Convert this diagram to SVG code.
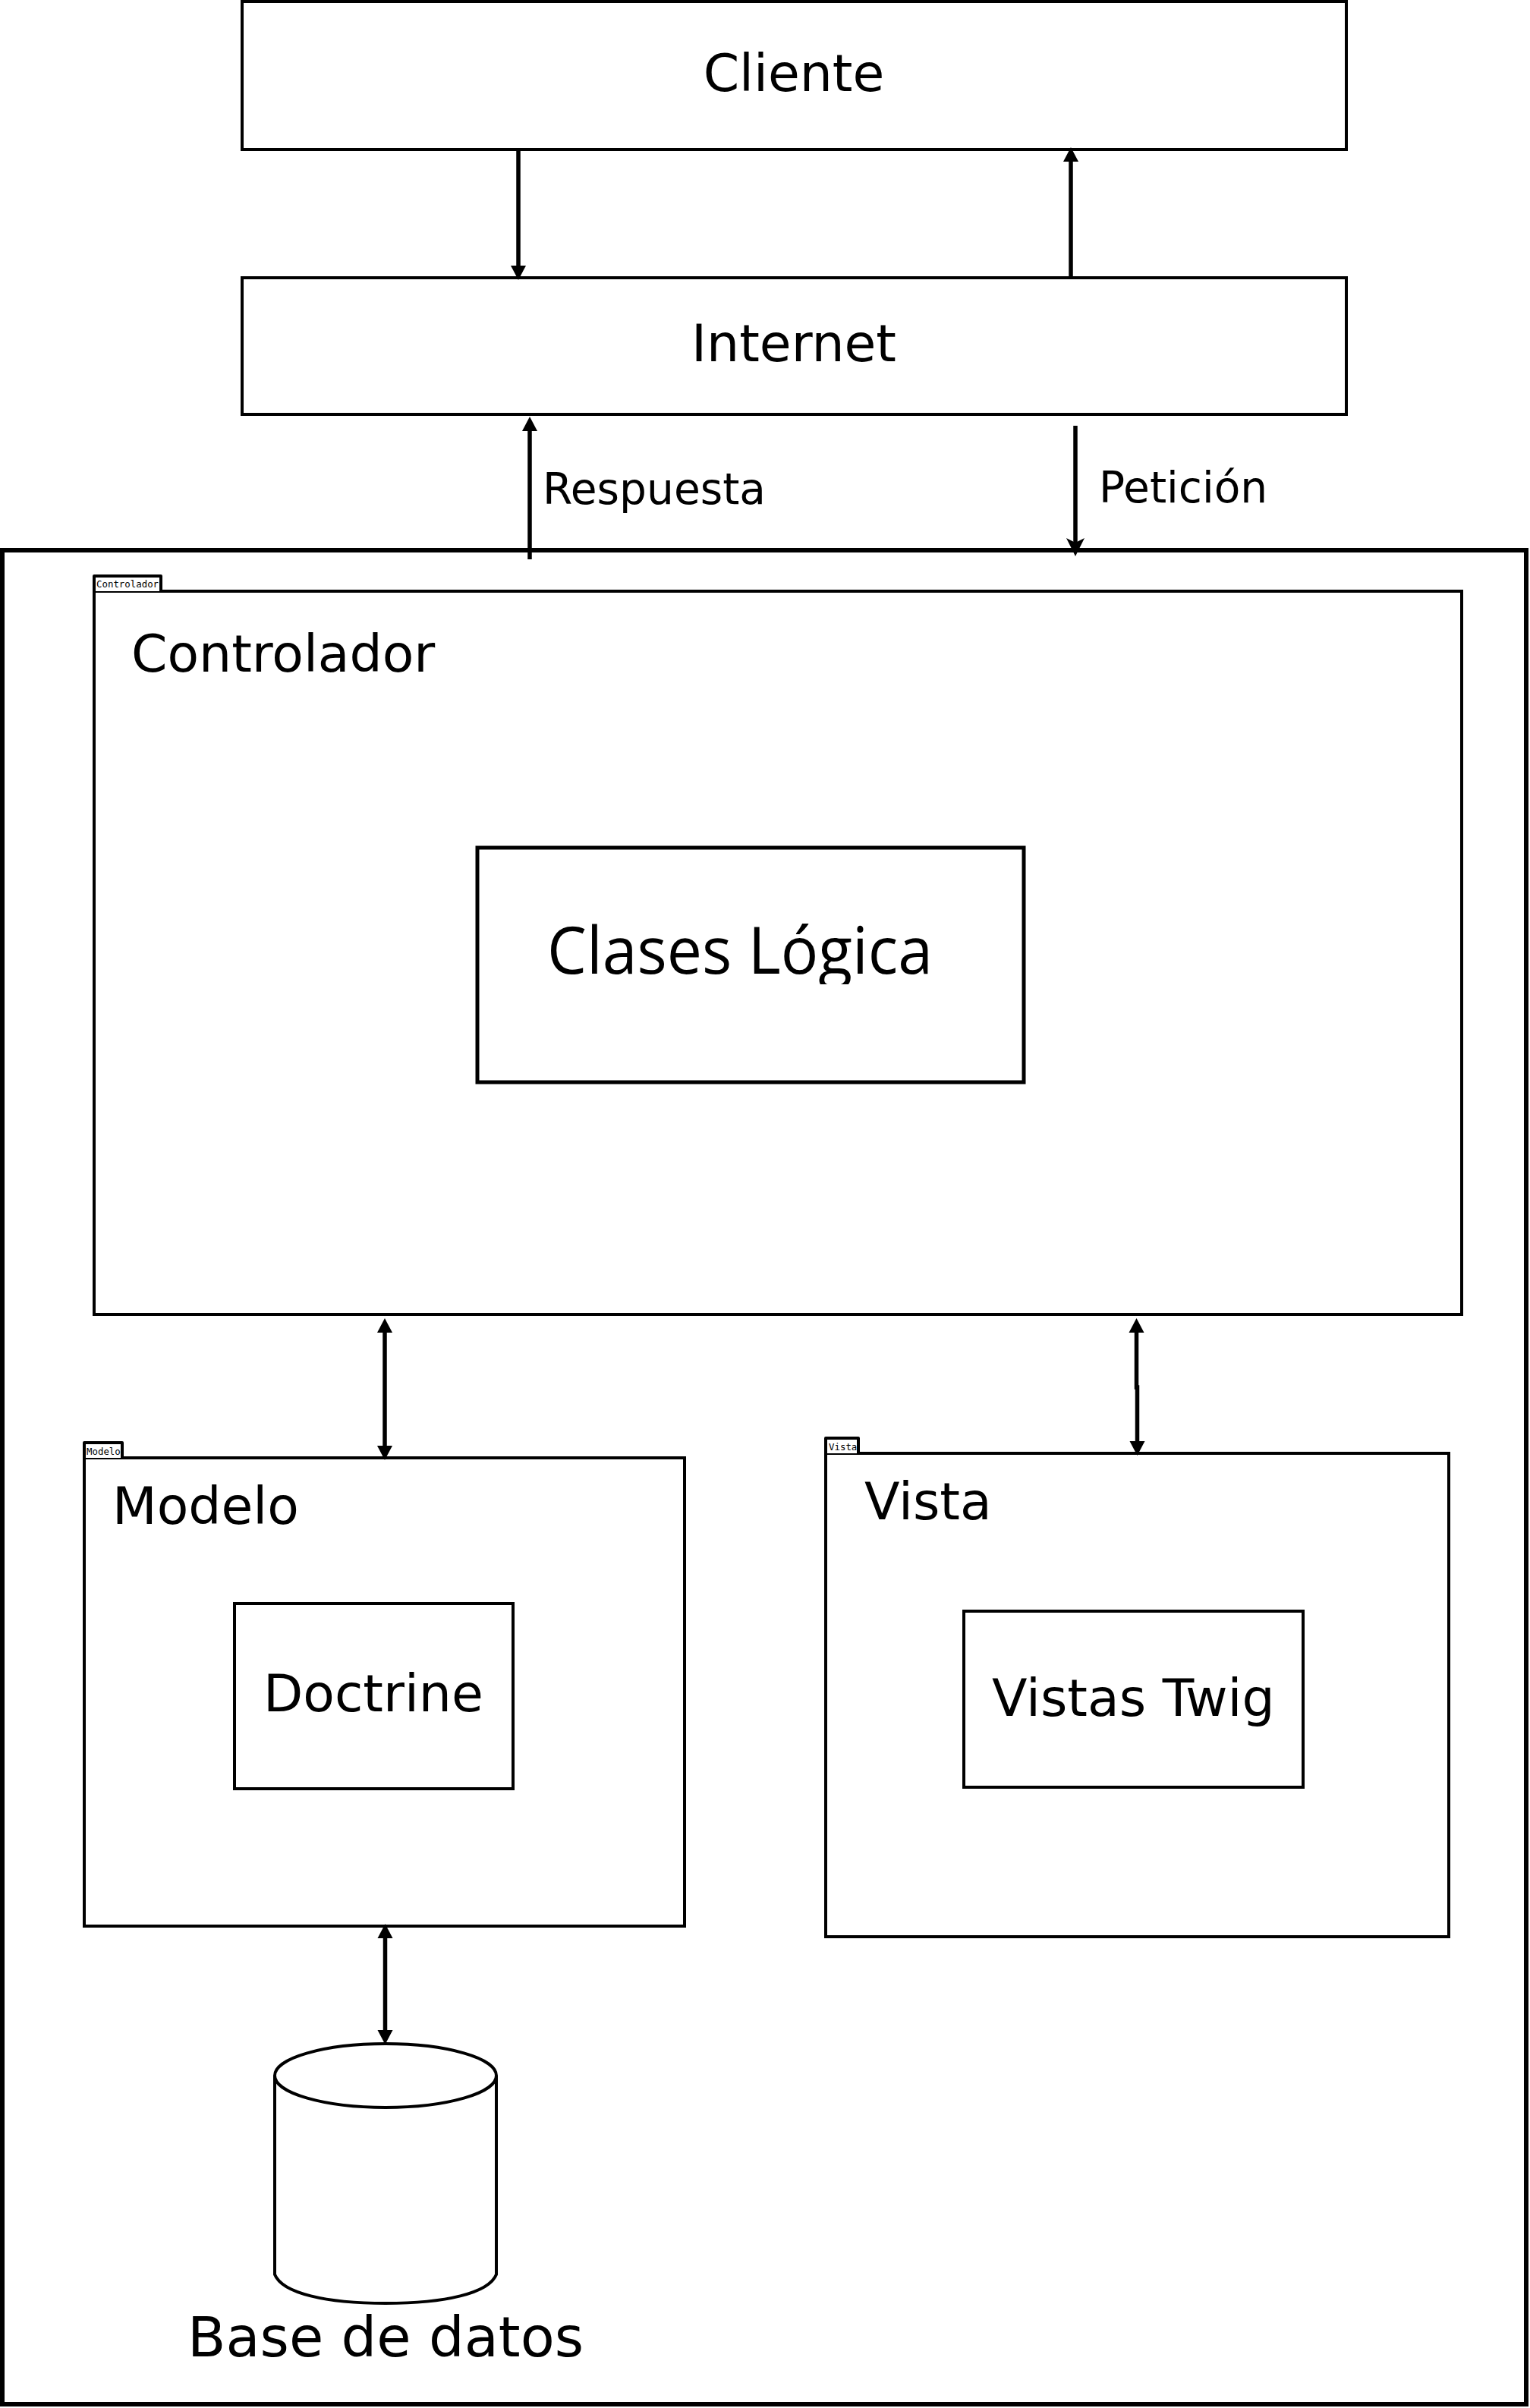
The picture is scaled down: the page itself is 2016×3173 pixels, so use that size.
<svg xmlns="http://www.w3.org/2000/svg" width="2016" height="3173" viewBox="0 0 2016 3173">
<style>
.box{fill:none;stroke:#000;stroke-width:4}
.tab{fill:#fff;stroke:#000;stroke-width:4;stroke-linejoin:round}
text{font-family:"DejaVu Sans",sans-serif;fill:#000}
.big{font-size:68px}
.mid{font-size:56.6px}
.tiny{font-family:"DejaVu Sans Mono",monospace;font-size:12.4px}
.c{fill:none;stroke:#000;stroke-width:5.5}
</style>
<defs>
<marker id="head" markerUnits="userSpaceOnUse" markerWidth="24" markerHeight="24" viewBox="0 0 24 24" refX="3" refY="12" orient="auto-start-reverse"><polygon points="0,2 19,12 0,22" fill="#000"/></marker>
<marker id="barb" markerUnits="userSpaceOnUse" markerWidth="28" markerHeight="28" viewBox="0 0 28 28" refX="8" refY="14" orient="auto-start-reverse"><polygon points="0,2 24,14 0,26 6,14" fill="#000"/></marker>
<clipPath id="logica"><rect x="700" y="1190" width="560" height="107"/></clipPath>
</defs>
<rect width="2016" height="3173" fill="#fff"/>
<g id="sistema"><rect x="3" y="725" width="2008" height="2443" fill="none" stroke="#000" stroke-width="6"/></g>
<g id="cliente"><rect class="box" x="319" y="2" width="1455" height="195"/><text class="big" x="1046" y="120" text-anchor="middle">Cliente</text></g>
<g id="internet"><rect class="box" x="319" y="366" width="1455" height="180"/><text class="big" x="1046" y="476" text-anchor="middle">Internet</text></g>
<g id="respuesta"><text class="mid" x="715" y="664">Respuesta</text></g>
<g id="peticion"><text class="mid" x="1448" y="662">Petición</text></g>
<g id="controlador"><rect class="box" x="124" y="779" width="1802" height="953"/><path class="tab" d="M124 779V759H212V779"/><text class="tiny" x="127" y="774">Controlador</text><text class="big" x="173" y="885">Controlador</text></g>
<g id="clases-logica"><rect x="629" y="1117" width="720" height="309" fill="none" stroke="#000" stroke-width="5"/><text x="721" y="1283" clip-path="url(#logica)" font-size="86" textLength="508" lengthAdjust="spacingAndGlyphs" style="font-family:'Open Sans',sans-serif">Clases Lógica</text></g>
<g id="modelo"><rect class="box" x="111" y="1921" width="791" height="617"/><path class="tab" d="M111 1921V1901H161V1921"/><text class="tiny" x="114" y="1917">Modelo</text><text class="big" x="148" y="2008">Modelo</text></g>
<g id="doctrine"><rect class="box" x="309" y="2113" width="367" height="244"/><text class="big" x="347" y="2255">Doctrine</text></g>
<g id="vista"><rect class="box" x="1088" y="1915" width="821" height="637"/><path class="tab" d="M1088 1915V1895H1131V1915"/><text class="tiny" x="1092" y="1911">Vista</text><text class="big" x="1139" y="2002">Vista</text></g>
<g id="vistas-twig"><rect class="box" x="1270" y="2123" width="447" height="232"/><text class="big" x="1307" y="2261">Vistas Twig</text></g>
<g id="base-de-datos"><ellipse class="box" cx="508" cy="2735" rx="146" ry="42"/><path class="box" d="M362 2735V2997C372 3022 430 3035 508 3035S644 3022 654 2997V2735"/><text x="247" y="3105" font-size="73.6">Base de datos</text></g>
<g id="connectors">
<path class="c" d="M683 197V353" marker-end="url(#head)"/>
<path class="c" d="M1411 366V210" marker-end="url(#head)"/>
<path class="c" d="M698 737V565" marker-end="url(#head)"/>
<path class="c" d="M1417 561V717" marker-end="url(#barb)"/>
<path class="c" d="M507 1753V1908" marker-start="url(#head)" marker-end="url(#head)"/>
<path class="c" d="M1497.5 1753V1828H1498.5V1902" marker-start="url(#head)" marker-end="url(#head)"/>
<path class="c" d="M507.5 2551V2678" marker-start="url(#head)" marker-end="url(#head)"/>
</g>
</svg>
